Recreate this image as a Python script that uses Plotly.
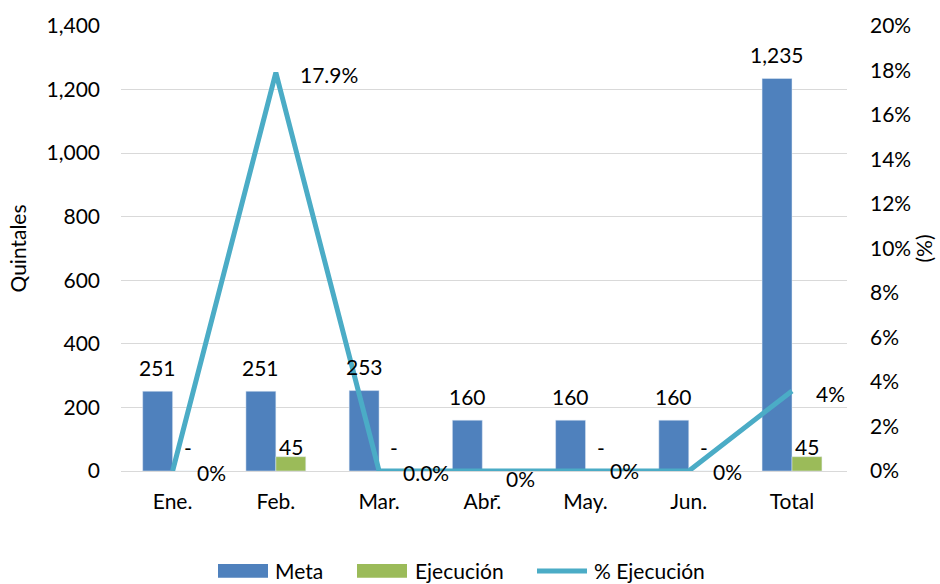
import plotly.graph_objects as go

categories = ["Ene.", "Feb.", "Mar.", "Abr.", "May.", "Jun.", "Total"]
meta = [251, 251, 253, 160, 160, 160, 1235]
ejecucion = [0, 45, 0, 0, 0, 0, 45]
pct_ejecucion = [0.0, 0.179, 0.0, 0.0, 0.0, 0.0, 0.036]
pct_labels = ["0%", "17.9%", "0.0%", "0%", "0%", "0%", "4%"]

# label style offsets (pixels)
ejec_label_dy = [24, 10, 24, -23, 24, 24, 10]
pct_label_dy = [-1, -2, -1, -7, 1, 0, -3]

BLUE = "#4F81BD"
GREEN = "#9BBB59"
TEAL = "#4BACC6"
GRID = "#D9D9D9"
FONT = "Lato"
FS = 21

fig = go.Figure()
fig.add_trace(go.Bar(x=categories, y=meta, name="Meta", marker_color=BLUE,
                     showlegend=False))
fig.add_trace(go.Bar(x=categories, y=ejecucion, name="Ejecución", marker_color=GREEN,
                     showlegend=False))
fig.add_trace(go.Scatter(x=categories, y=pct_ejecucion, name="% Ejecución", yaxis="y2",
                         mode="lines", line=dict(color=TEAL, width=5),
                         showlegend=False))

ann = []
for c, v in zip(categories, meta):
    ann.append(dict(x=c, y=v, xref="x", yref="y", text=f"{v:,}", showarrow=False,
                    xshift=-15, yshift=24, yanchor="middle", xanchor="center"))
for c, v, dy in zip(categories, ejecucion, ejec_label_dy):
    ann.append(dict(x=c, y=v, xref="x", yref="y", text=(f"{v:,}" if v else "-"),
                    showarrow=False, xshift=15, yshift=dy, yanchor="middle", xanchor="center"))
for c, v, t, dy in zip(categories, pct_ejecucion, pct_labels, pct_label_dy):
    ann.append(dict(x=c, y=v, xref="x", yref="y2", text=t, showarrow=False,
                    xshift=22, yshift=dy, yanchor="middle", xanchor="left"))

# manual legend
L, R, T, B = 121, 847, 21, 471
def px(X):
    return (X - L) / (R - L)
def py(Y):
    return (B - Y) / (B - T)

shapes = [
    dict(type="rect", xref="paper", yref="paper", x0=px(218), x1=px(268), y0=py(579), y1=py(565),
         fillcolor=BLUE, line=dict(width=0)),
    dict(type="rect", xref="paper", yref="paper", x0=px(357), x1=px(407), y0=py(579), y1=py(565),
         fillcolor=GREEN, line=dict(width=0)),
    dict(type="line", xref="paper", yref="paper", x0=px(537), x1=px(587), y0=py(572), y1=py(572),
         line=dict(color=TEAL, width=5)),
]
for X, t in [(273, "Meta"), (413, "Ejecución"), (592, "% Ejecución")]:
    ann.append(dict(x=px(X), y=py(572), xref="paper", yref="paper", text=t, showarrow=False,
                    xanchor="left", yanchor="middle"))

fig.update_layout(
    width=940, height=584,
    margin=dict(l=121, r=93, t=21, b=113),
    paper_bgcolor="white", plot_bgcolor="white",
    font=dict(family=FONT, size=FS, color="#000000"),
    barmode="group", bargap=0.42, bargroupgap=0,
    xaxis=dict(type="category", showgrid=False, showline=False, ticks="",
               ticklabelstandoff=16, tickfont=dict(size=FS)),
    yaxis=dict(range=[0, 1400], dtick=200, tickformat=",", showgrid=True, gridcolor=GRID,
               gridwidth=1, zeroline=True, zerolinecolor=GRID, zerolinewidth=1,
               showline=False, ticks="", ticklabelstandoff=20,
               title=dict(text="Quintales", standoff=14, font=dict(size=FS))),
    yaxis2=dict(range=[0, 0.2], dtick=0.02, tickformat=".0%", overlaying="y", side="right",
                showgrid=False, zeroline=False, showline=False, ticks="", ticklabelstandoff=22,
                title=dict(text="(%)", standoff=2, font=dict(size=FS))),
    annotations=ann, shapes=shapes,
    showlegend=False,
)

fig.write_html("out.html", config={"displayModeBar": False},
               post_script="document.body.style.margin='0';document.body.style.overflow='hidden';")
